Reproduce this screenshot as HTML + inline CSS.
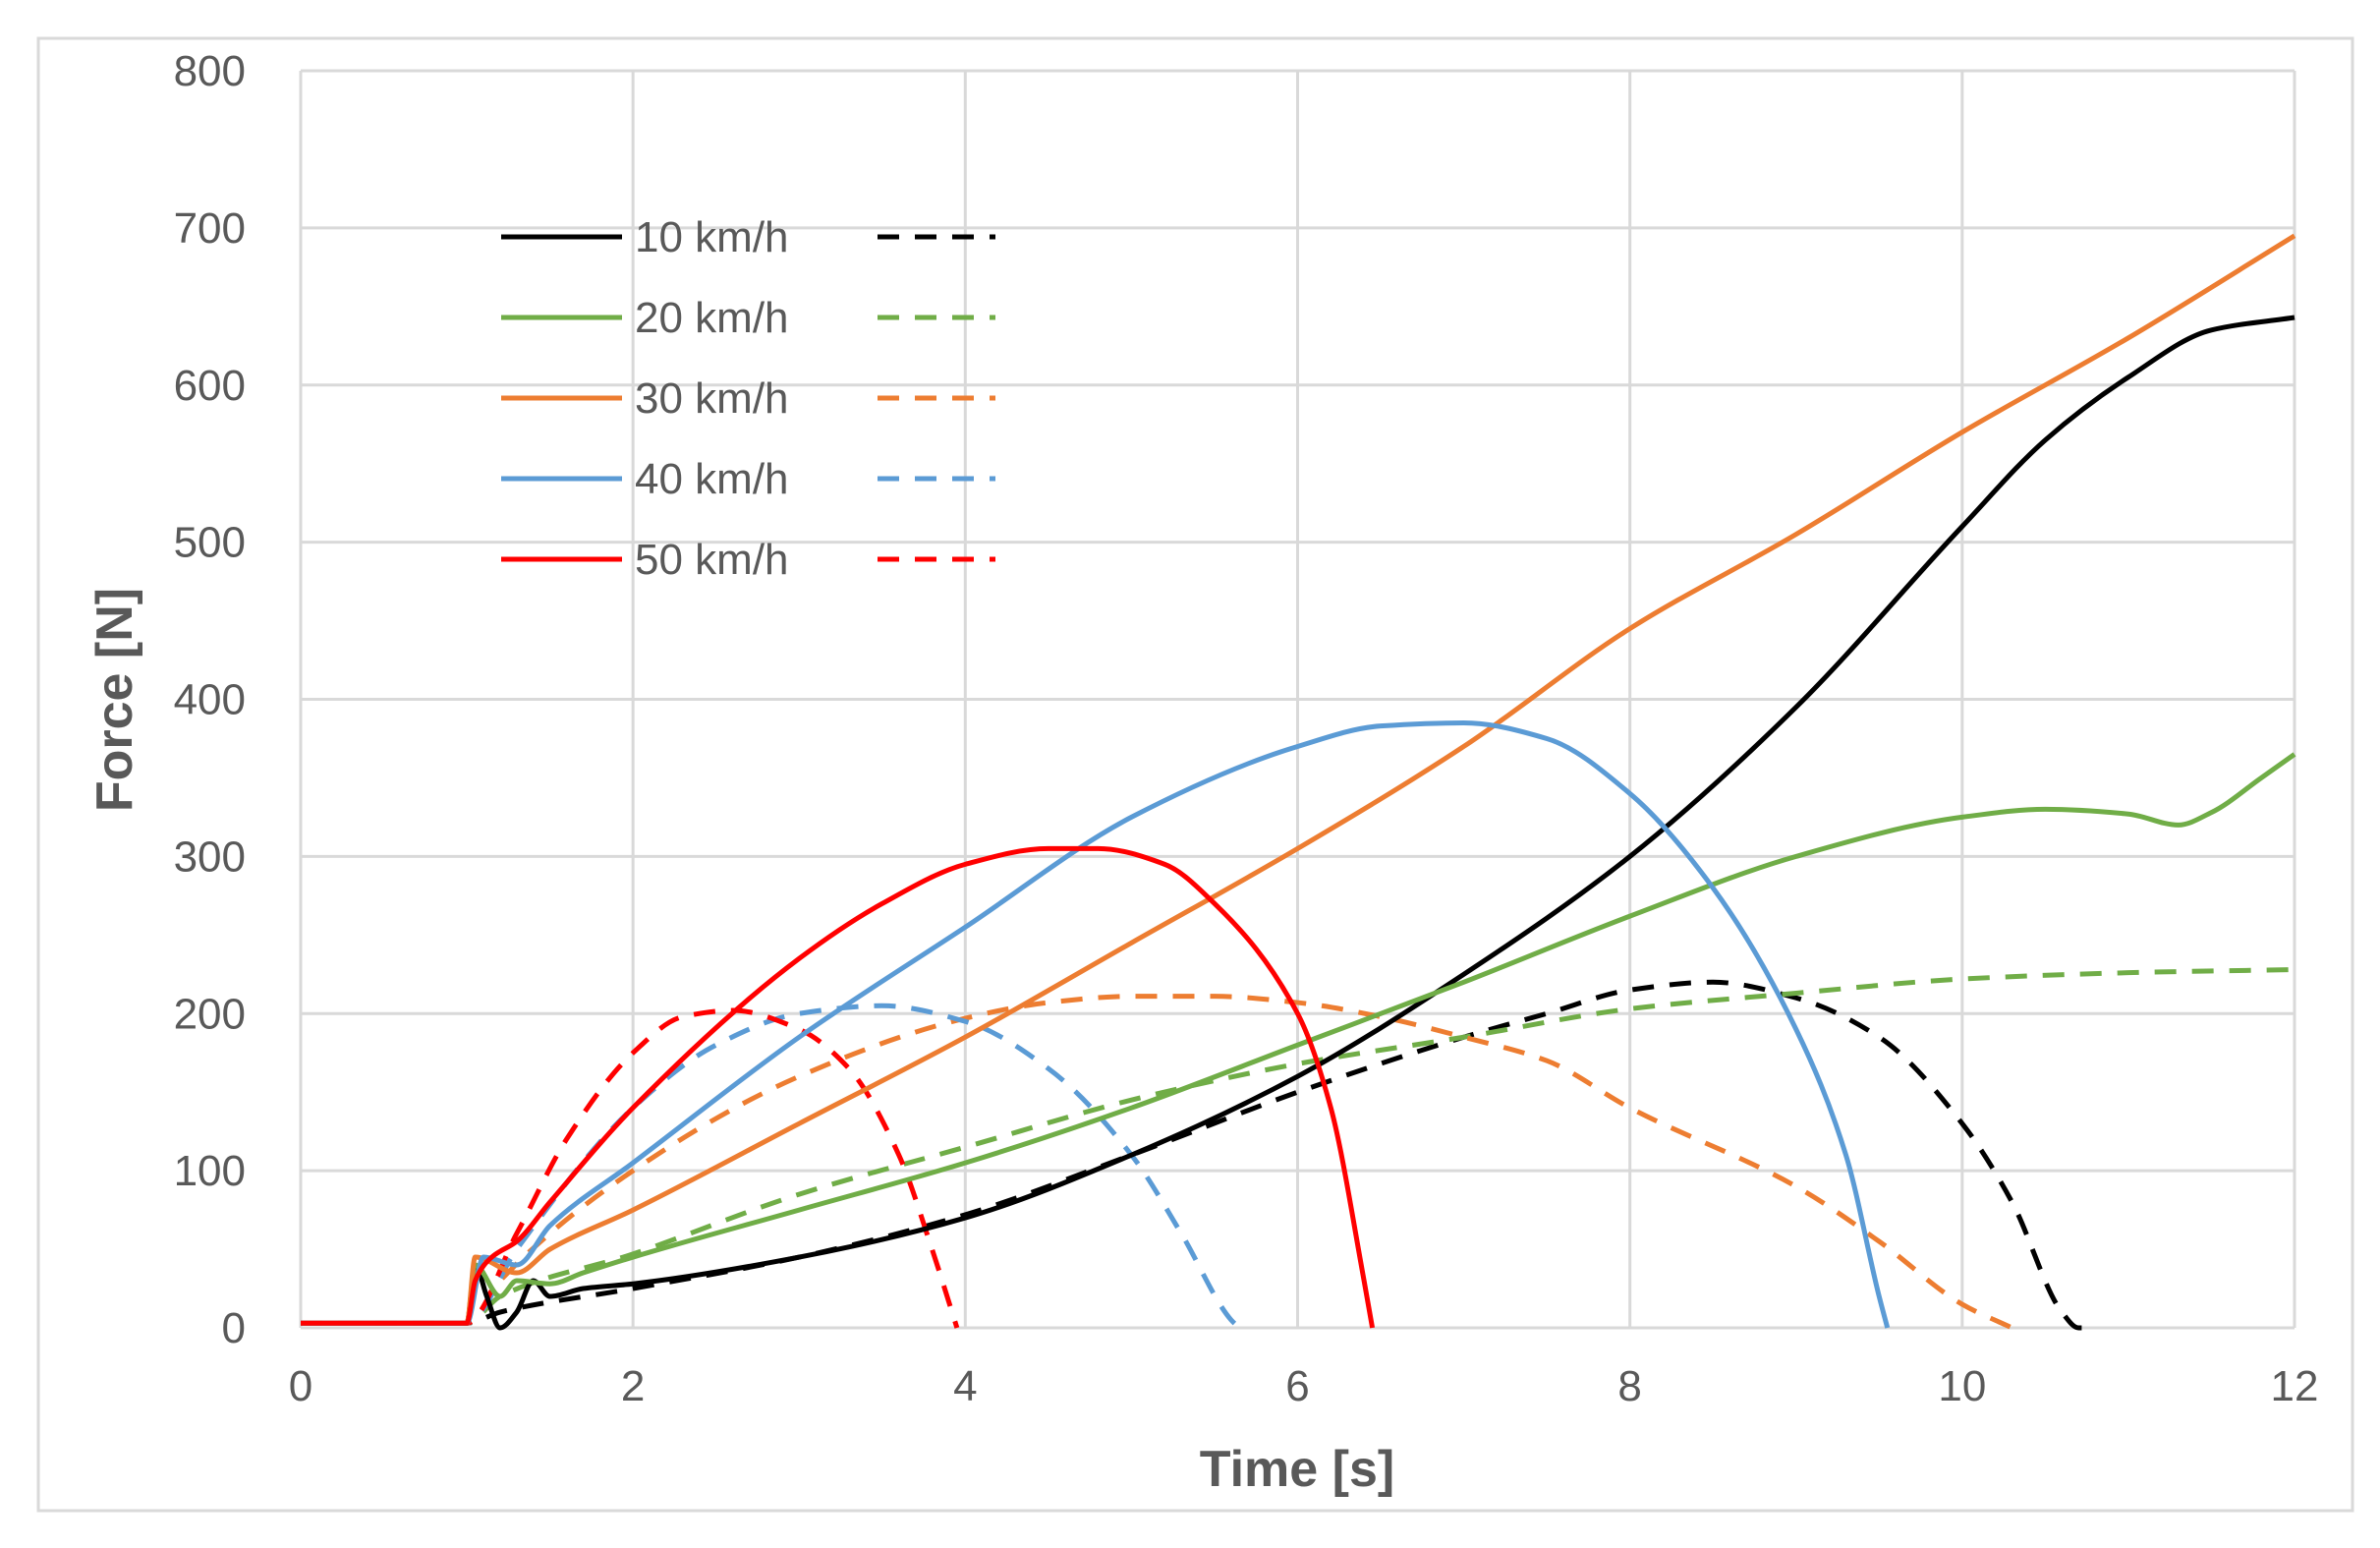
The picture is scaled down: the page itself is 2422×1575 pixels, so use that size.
<!DOCTYPE html>
<html><head><meta charset="utf-8"><style>
html,body{margin:0;padding:0;background:#fff}
svg{display:block}
text{font-family:"Liberation Sans",sans-serif;fill:#595959}
</style></head><body>
<svg id="chart" width="2422" height="1575" viewBox="0 0 2422 1575" xmlns="http://www.w3.org/2000/svg">
<rect x="39" y="39" width="2355" height="1498" fill="#fff" stroke="#d9d9d9" stroke-width="3"/>
<g id="grid"></g><g id="series"></g><g id="axes"></g><g id="legend"></g>
<text x="1320" y="1512" text-anchor="middle" font-size="52" font-weight="bold">Time [s]</text>
<text transform="translate(134,712) rotate(-90)" text-anchor="middle" font-size="52" font-weight="bold">Force [N]</text>
</svg>
<script>
const xTicks=[0,2,4,6,8,10,12];
const yTicks=[0,100,200,300,400,500,600,700,800];
const seriesNames=["10 km/h","20 km/h","30 km/h","40 km/h","50 km/h"];
const seriesColors=["#000000","#70ad47","#ed7d31","#5b9bd5","#ff0000"];
const t10s=[0,1,1.05,1.12,1.2,1.3,1.4,1.5,1.7,2,3,4,5,6,7,8,9,10,10.5,11,11.5,12];
const v10s=[3,3,40,20,0,10,30,20,25,28,45,70,110,160,225,300,395,510,565,605,635,643];
const t10d=[0,1,1.2,2,3,4,5,6,7,7.5,8,8.5,9,9.5,10,10.3,10.6,10.7,10.8];
const v10d=[3,3,10,25,45,72,110,150,185,200,215,220,210,185,130,80,10,0,0];
const t20s=[0,1,1.05,1.2,1.3,1.5,1.7,2,3,4,5,6,7,8,9,10,10.5,11,11.3,11.5,11.8,12];
const v20s=[3,3,40,20,30,28,35,45,75,105,140,180,220,262,300,325,330,327,320,328,350,365];
const t20d=[0,1,1.2,2,3,4,5,6,7,8,9,10,11,12];
const v20d=[3,3,20,47,85,115,145,168,185,203,213,222,226,228];
const t30s=[0,1,1.05,1.3,1.5,2,3,4,5,6,7,8,9,10,11,12];
const v30s=[3,3,45,35,50,75,130,185,245,305,370,445,505,570,630,695];
const t30d=[0,1,1.2,2,3,4,4.5,5,5.5,6,6.5,7,7.5,8,9,9.5,10,10.3];
const v30d=[3,3,30,100,160,197,207,211,211,207,198,185,170,140,90,55,15,0];
const t40s=[0,1,1.1,1.3,1.5,2,3,4,5,6,6.5,7,7.5,8,8.5,9,9.3,9.5,9.55];
const v40s=[3,3,45,40,65,105,185,255,325,370,383,385,375,340,280,190,110,20,0];
const t40d=[0,1,1.3,2,2.5,3,3.5,4,4.5,5,5.3,5.6,5.65];
const v40d=[3,3,50,140,180,200,205,195,165,110,60,5,0];
const t50s=[0,1,1.05,1.15,1.3,1.5,2,3,3.5,4,4.5,4.8,5.2,5.5,6,6.2,6.4,6.45];
const v50s=[3,3,30,45,55,80,140,235,270,295,305,305,295,270,200,140,30,0];
const t50d=[0,1,1.3,1.6,2,2.3,2.6,3,3.3,3.6,3.8,3.95];
const v50d=[3,3,60,120,175,198,202,190,165,110,50,0];

const NS="http://www.w3.org/2000/svg";
const X0=306,X1=2335,Y0=1351,Y1=72;
const xs=t=>X0+(t-0)/(12-0)*(X1-X0);
const ys=v=>Y0-(v-0)/(800-0)*(Y0-Y1);
function mk(tag,attrs,parent){const e=document.createElementNS(NS,tag);for(const k in attrs)e.setAttribute(k,attrs[k]);parent.appendChild(e);return e;}
const grid=document.getElementById('grid'),axes=document.getElementById('axes'),ser=document.getElementById('series'),leg=document.getElementById('legend');
yTicks.forEach(v=>{
  const l=mk('line',{x1:X0,x2:X1,y1:ys(v),y2:ys(v),stroke:'#d9d9d9','stroke-width':3},grid);
  
  
  const t=mk('text',{x:X0-56,y:ys(v)+15,'text-anchor':'end','font-size':44},axes);
  t.textContent=v;
  
  
});
xTicks.forEach(v=>{
  const l=mk('line',{x1:xs(v),x2:xs(v),y1:Y1,y2:Y0,stroke:'#d9d9d9','stroke-width':3},grid);
  
  
  const t=mk('text',{x:xs(v),y:Y0+74,'text-anchor':'middle','font-size':44},axes);
  t.textContent=v;
  
  
});
function pathD(T,V){
  const n=T.length,px=T.map(xs),py=V.map(ys);
  const d=[],m=[];
  for(let i=0;i<n-1;i++)d.push((py[i+1]-py[i])/(px[i+1]-px[i]));
  for(let i=0;i<n;i++){
    if(i===0)m.push(d[0]);else if(i===n-1)m.push(d[n-2]);
    else if(d[i-1]*d[i]<=0)m.push(0);
    else{const w1=2*(px[i+1]-px[i])+(px[i]-px[i-1]),w2=(px[i+1]-px[i])+2*(px[i]-px[i-1]);m.push((w1+w2)/(w1/d[i-1]+w2/d[i]));}
  }
  let s='M'+px[0]+','+py[0];
  for(let i=0;i<n-1;i++){
    const h=(px[i+1]-px[i])/3;
    s+=' C'+(px[i]+h)+','+(py[i]+m[i]*h)+' '+(px[i+1]-h)+','+(py[i+1]-m[i+1]*h)+' '+px[i+1]+','+py[i+1];
  }
  return s;
}
const solidT=[t10s,t20s,t30s,t40s,t50s],solidV=[v10s,v20s,v30s,v40s,v50s];
const dashT=[t10d,t20d,t30d,t40d,t50d],dashV=[v10d,v20d,v30d,v40d,v50d];
for(let i=0;i<5;i++){
  const d=mk('path',{d:pathD(dashT[i],dashV[i]),fill:'none',stroke:seriesColors[i],'stroke-width':5,'stroke-dasharray':'22 16'},ser);
  
  
}
for(let i=0;i<5;i++){
  const s=mk('path',{d:pathD(solidT[i],solidV[i]),fill:'none',stroke:seriesColors[i],'stroke-width':5},ser);
  
  
}
seriesNames.forEach((n,i)=>{
  const y=241+i*82;
  const g=mk('g',{},leg);
  
  
  mk('line',{x1:510,x2:633,y1:y,y2:y,stroke:seriesColors[i],'stroke-width':5},g);
  mk('line',{x1:893,x2:1013,y1:y,y2:y,stroke:seriesColors[i],'stroke-width':5,'stroke-dasharray':'22 16'},g);
  const t=mk('text',{x:646,y:y+15,'font-size':44},g);
  t.textContent=n;
  
  
});
</script>
</body></html>
